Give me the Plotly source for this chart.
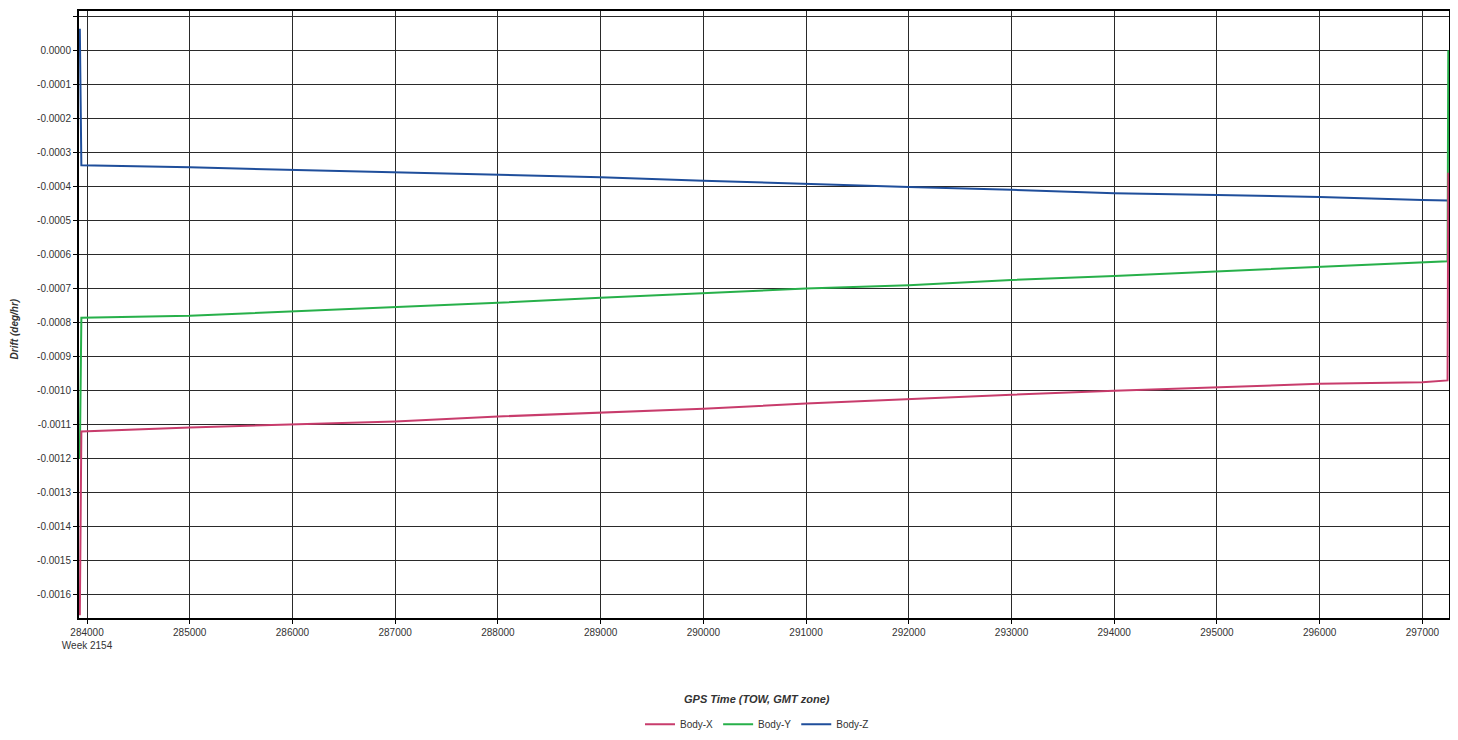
import plotly.graph_objects as go

# GPS time of week (s)
tow_x = [283930, 283945, 285000, 286000, 287000, 288000, 289000, 290000, 291000, 292000,
         293000, 294000, 295000, 296000, 297000, 297245, 297252]
body_x = [-0.00166, -0.00112, -0.001108, -0.00110, -0.001091, -0.001076, -0.001064, -0.001053,
          -0.001038, -0.001024, -0.001012, -0.00100, -0.00099, -0.00098, -0.000975, -0.00097, -0.00036]

tow_y = [283930, 283945, 285000, 286000, 287000, 288000, 289000, 290000, 291000, 292000,
         293000, 294000, 295000, 296000, 297000, 297245, 297252]
body_y = [-0.00120, -0.000786, -0.00078, -0.000768, -0.000756, -0.000742, -0.000727, -0.000713,
          -0.000700, -0.00069, -0.000675, -0.000663, -0.00065, -0.000635, -0.000623, -0.00062, 0.0000]

tow_z = [283930, 283945, 285000, 286000, 287000, 288000, 289000, 290000, 291000, 292000,
         293000, 294000, 295000, 296000, 297000, 297250]
body_z = [0.000063, -0.000338, -0.000344, -0.000351, -0.000358, -0.000366, -0.000373, -0.000383,
          -0.000393, -0.000402, -0.00041, -0.00042, -0.000425, -0.000431, -0.00044, -0.000441]

y_tick_vals = [0.0001, 0.0, -0.0001, -0.0002, -0.0003, -0.0004, -0.0005, -0.0006, -0.0007, -0.0008,
               -0.0009, -0.0010, -0.0011, -0.0012, -0.0013, -0.0014, -0.0015, -0.0016]
y_tick_text = ["", "0.0000", "-0.0001", "-0.0002", "-0.0003", "-0.0004", "-0.0005", "-0.0006",
               "-0.0007", "-0.0008", "-0.0009", "-0.0010", "-0.0011", "-0.0012", "-0.0013",
               "-0.0014", "-0.0015", "-0.0016"]
x_tick_vals = [284000, 285000, 286000, 287000, 288000, 289000, 290000, 291000, 292000,
               293000, 294000, 295000, 296000, 297000]
x_tick_text = ["284000<br>Week 2154", "285000", "286000", "287000", "288000", "289000", "290000",
               "291000", "292000", "293000", "294000", "295000", "296000", "297000"]

fig = go.Figure()
fig.add_trace(go.Scatter(x=tow_z, y=body_z, mode="lines", name="Body-Z", legendrank=3,
                         line=dict(color="#1F4E9B", width=2)))
fig.add_trace(go.Scatter(x=tow_y, y=body_y, mode="lines", name="Body-Y", legendrank=2,
                         line=dict(color="#27B04A", width=2)))
fig.add_trace(go.Scatter(x=tow_x, y=body_x, mode="lines", name="Body-X", legendrank=1,
                         line=dict(color="#C83C6C", width=2)))

W, H = 1450, 732
ML, MR, MT, MB = 71, 9, 1, 119
PW, PH = W - ML - MR, H - MT - MB

font_family = "Liberation Sans, Arial, sans-serif"
fig.update_layout(
    width=W, height=H,
    margin=dict(l=ML, r=MR, t=MT, b=MB),
    paper_bgcolor="white", plot_bgcolor="white",
    font=dict(family=font_family, size=10, color="#333333"),
    showlegend=True,
    legend=dict(orientation="h", x=(757 - 79) / PW, xanchor="center",
                y=-(728 - 621) / PH, yanchor="middle",
                font=dict(size=10, color="#333333"), itemwidth=30, traceorder="normal"),
    xaxis=dict(range=[283922, 297259], tickvals=x_tick_vals, ticktext=x_tick_text,
               showgrid=True, gridcolor="#2a2a2a", gridwidth=1, zeroline=False,
               showline=True, linecolor="black", linewidth=2, mirror=True,
               ticks="outside", ticklen=4, tickcolor="black", tickfont=dict(size=10, color="#333333")),
    yaxis=dict(range=[-0.001668, 0.0001154], tickvals=y_tick_vals, ticktext=y_tick_text,
               showgrid=True, gridcolor="#2a2a2a", gridwidth=1, zeroline=False,
               showline=True, linecolor="black", linewidth=2, mirror=True,
               ticks="outside", ticklen=4, tickcolor="black", tickfont=dict(size=10, color="#333333")),
    annotations=[
        dict(text="<b><i>Drift (deg/hr)</i></b>", xref="paper", yref="paper",
             x=-(79 - 14) / PW, y=(621 - 330) / PH, textangle=-90, showarrow=False,
             xanchor="center", yanchor="middle", font=dict(size=10, color="#333333")),
        dict(text="<b><i>GPS Time (TOW, GMT zone)</i></b>", xref="paper", yref="paper",
             x=(757 - 79) / PW, y=-(703 - 621) / PH, showarrow=False,
             xanchor="center", yanchor="middle", font=dict(size=11, color="#333333")),
    ],
)

fig.write_html("out.html")
